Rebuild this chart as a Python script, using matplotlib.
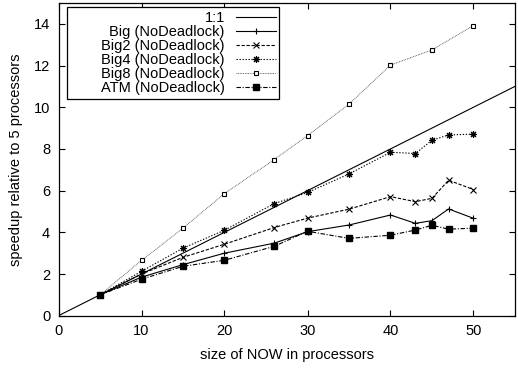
import matplotlib
matplotlib.use('Agg')
import matplotlib.pyplot as plt

# ===== DATA =====
ideal_x = [0, 55]
ideal_y = [0, 11]

big_x = [5, 10, 15, 20, 26, 30, 35, 40, 43, 45, 47, 50]
big_y = [1, 1.85, 2.45, 3.0, 3.48, 4.03, 4.35, 4.83, 4.43, 4.56, 5.12, 4.67]

big2_x = [5, 10, 15, 20, 26, 30, 35, 40, 43, 45, 47, 50]
big2_y = [1, 2.0, 2.8, 3.43, 4.23, 4.68, 5.11, 5.71, 5.47, 5.63, 6.5, 6.05]

big4_x = [5, 10, 15, 20, 26, 30, 35, 40, 43, 45, 47, 50]
big4_y = [1, 2.13, 3.24, 4.1, 5.38, 5.91, 6.8, 7.84, 7.78, 8.42, 8.67, 8.71]

big8_x = [5, 10, 15, 20, 26, 30, 35, 40, 45, 50]
big8_y = [1, 2.65, 4.2, 5.86, 7.49, 8.64, 10.15, 12.02, 12.75, 13.92]

atm_x = [5, 10, 15, 20, 26, 30, 35, 40, 43, 45, 47, 50]
atm_y = [1, 1.75, 2.37, 2.66, 3.33, 4.05, 3.71, 3.86, 4.11, 4.34, 4.15, 4.2]

labels = ['1:1', 'Big (NoDeadlock)', 'Big2 (NoDeadlock)', 'Big4 (NoDeadlock)',
          'Big8 (NoDeadlock)', 'ATM (NoDeadlock)']
# ===== DATA =====

plt.rcParams['font.family'] = ['Liberation Sans', 'DejaVu Sans']
plt.rcParams['font.size'] = 10.5

fig = plt.figure(figsize=(5.18, 3.68), dpi=100)
ax = fig.add_axes([58.5 / 518, 1 - 315.7 / 368, (515 - 58.5) / 518, (315.7 - 3) / 368])

lw = 0.8
ms = 4
ax.plot(ideal_x, ideal_y, color='black', lw=lw, label=labels[0])
ax.plot(big_x, big_y, color='black', lw=lw, marker='+', ms=ms + 1, mew=0.8, label=labels[1])
ax.plot(big2_x, big2_y, color='black', lw=lw, dashes=(3, 1.5), marker='x', ms=ms, mew=0.8,
        label=labels[2])
ax.plot(big4_x, big4_y, color='black', lw=lw, dashes=(1.2, 1.5), marker=(8, 2, 0), ms=ms + 1,
        mew=0.8, label=labels[3])
ax.plot(big8_x, big8_y, color='#444444', lw=0.6, dashes=(1, 1), marker='s', ms=3.5,
        mfc='white', mec='black', mew=0.8, label=labels[4])
ax.plot(atm_x, atm_y, color='black', lw=lw, dashes=(4, 1.5, 1, 1.5), marker='s', ms=ms,
        mfc='black', mec='black', label=labels[5])

ax.set_xlim(0, 55)
ax.set_ylim(0, 15)
ax.set_xticks(range(0, 51, 10))
ax.set_yticks(range(0, 15, 2))
ax.tick_params(direction='in', top=True, right=True, length=4, width=0.8, pad=6)
for s in ax.spines.values():
    s.set_linewidth(0.9)
ax.set_xlabel('size of NOW in processors', labelpad=7)
ax.set_ylabel('speedup relative to 5 processors', labelpad=8)

leg = ax.legend(loc='upper left', bbox_to_anchor=(0.019, 0.986), borderaxespad=0,
                markerfirst=False, frameon=True, fancybox=False, framealpha=1,
                edgecolor='black', handlelength=2.75, handletextpad=0.75,
                labelspacing=0.0, borderpad=0.25)
leg.get_frame().set_linewidth(0.9)
# right-align the labels like gnuplot does
col = leg._legend_box._children[-1]._children[0]
col.align = 'right'
col.width = 205

fig.savefig('out.png', dpi=100)
